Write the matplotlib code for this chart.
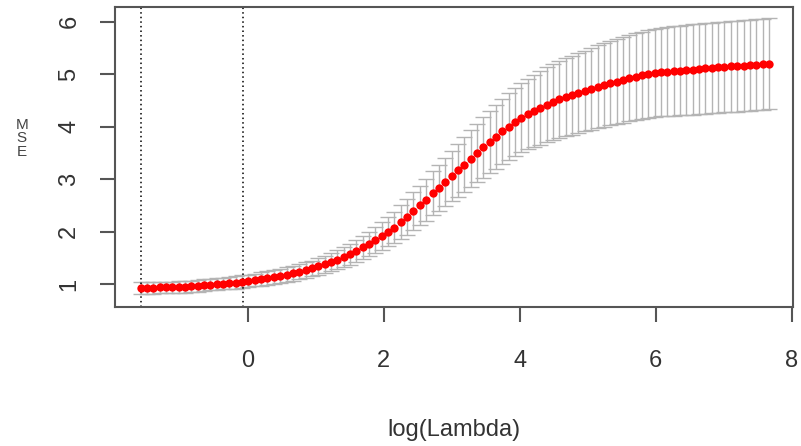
import numpy as np
import matplotlib.pyplot as plt

plt.rcParams['font.family'] = ['Liberation Sans', 'DejaVu Sans']

# log(lambda) grid of the cv path (100 values, evenly spaced in log scale)
log_lambda = np.linspace(-1.575, 7.666, 100)

cv_mean = [
    0.93, 0.93, 0.93, 0.94, 0.94, 0.94, 0.95, 0.95, 0.96, 0.97,
    0.98, 0.99, 1.00, 1.01, 1.02, 1.03, 1.05, 1.06, 1.08, 1.10,
    1.12, 1.14, 1.16, 1.18, 1.21, 1.24, 1.27, 1.30, 1.34, 1.38,
    1.42, 1.47, 1.52, 1.57, 1.63, 1.70, 1.77, 1.84, 1.92, 2.00,
    2.08, 2.18, 2.28, 2.39, 2.50, 2.61, 2.73, 2.84, 2.95, 3.06,
    3.17, 3.28, 3.39, 3.50, 3.61, 3.71, 3.81, 3.91, 4.00, 4.09,
    4.17, 4.24, 4.30, 4.36, 4.42, 4.47, 4.52, 4.56, 4.60, 4.64,
    4.68, 4.72, 4.76, 4.80, 4.83, 4.86, 4.89, 4.92, 4.95, 4.98,
    5.00, 5.02, 5.04, 5.05, 5.06, 5.07, 5.08, 5.09, 5.10, 5.11,
    5.12, 5.13, 5.14, 5.15, 5.15, 5.16, 5.17, 5.18, 5.19, 5.20,
]

cv_sd = [
    0.11, 0.11, 0.11, 0.11, 0.11, 0.11, 0.11, 0.11, 0.11, 0.11,
    0.11, 0.11, 0.11, 0.11, 0.12, 0.12, 0.12, 0.12, 0.12, 0.13,
    0.13, 0.13, 0.13, 0.14, 0.14, 0.14, 0.15, 0.15, 0.16, 0.16,
    0.17, 0.18, 0.19, 0.20, 0.21, 0.22, 0.23, 0.25, 0.26, 0.28,
    0.30, 0.32, 0.34, 0.36, 0.38, 0.40, 0.42, 0.44, 0.46, 0.48,
    0.50, 0.52, 0.54, 0.56, 0.58, 0.59, 0.61, 0.62, 0.64, 0.65,
    0.66, 0.67, 0.69, 0.70, 0.71, 0.72, 0.73, 0.74, 0.75, 0.76,
    0.77, 0.78, 0.79, 0.80, 0.80, 0.81, 0.82, 0.82, 0.83, 0.83,
    0.84, 0.84, 0.84, 0.85, 0.85, 0.85, 0.85, 0.86, 0.86, 0.86,
    0.86, 0.86, 0.86, 0.87, 0.87, 0.87, 0.87, 0.87, 0.87, 0.87,
]

lambda_min = -1.575
lambda_1se = -0.07

x_ticks = [0, 2, 4, 6, 8]
y_ticks = [1, 2, 3, 4, 5, 6]

fig = plt.figure(figsize=(8.01, 4.46), dpi=100)
ax = fig.add_axes([0.1436, 0.3117, 0.8464, 0.6737])

ax.errorbar(log_lambda, cv_mean, yerr=cv_sd, fmt='none', ecolor='#b4b4b4',
            elinewidth=1.0, capsize=5.5, capthick=1.0, zorder=1)
ax.plot(log_lambda, cv_mean, 'o', color='red', markersize=6,
        markeredgewidth=0, zorder=3)

ax.axvline(lambda_min, color='black', linestyle=(0, (1, 2)), linewidth=1.1, zorder=2)
ax.axvline(lambda_1se, color='black', linestyle=(0, (1, 2)), linewidth=1.1, zorder=2)

ax.set_xlim(-1.95, 8.02)
ax.set_ylim(0.566, 6.29)
ax.set_xticks(x_ticks)
ax.set_yticks(y_ticks)

for s in ax.spines.values():
    s.set_color('#555555')
    s.set_linewidth(1.5)

ax.tick_params(axis='both', length=11, width=1.5, color='#555555',
               labelsize=17, labelcolor='#333333')
ax.tick_params(axis='x', pad=20)
ax.tick_params(axis='y', pad=14)
for lab in ax.get_yticklabels():
    lab.set_rotation(90)
    lab.set_va('center')

fig.text(0.5668, 0.012, 'log(Lambda)', ha='center', va='bottom',
         fontsize=17, color='#333333')
fig.text(0.027, 0.69, 'M\nS\nE', ha='center', va='center',
         fontsize=11, color='#444444', linespacing=0.95)

fig.savefig('out.png', dpi=100)
